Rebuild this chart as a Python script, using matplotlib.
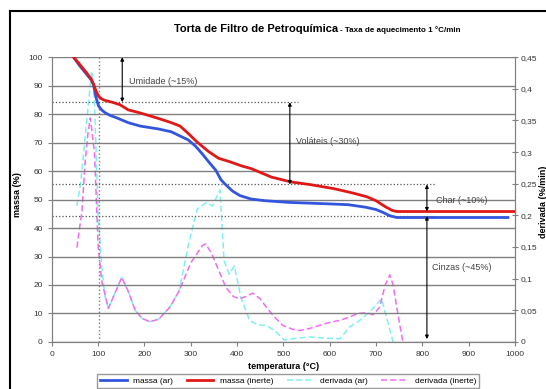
import matplotlib
matplotlib.use("Agg")
import matplotlib.pyplot as plt
from matplotlib.lines import Line2D
from matplotlib.ticker import FuncFormatter

plt.rcParams["font.family"] = ["Liberation Sans", "DejaVu Sans"]

# massa (ar)
t_ar = [47, 60, 75, 85, 90, 95, 101, 108, 115, 125, 140, 165, 191, 230, 258,
        277, 294, 310, 324, 340, 354, 365, 373, 390, 406, 430, 460, 512, 580,
        640, 678, 700, 715, 730, 745, 800, 985]
m_ar = [100, 97, 94, 92, 90.3, 86, 82.8, 81.4, 80.5, 79.6, 78.7, 77, 75.8,
        74.8, 73.8, 72.3, 71, 68.8, 66.2, 63, 60.3, 57, 55.6, 53, 51.4, 50.2,
        49.6, 49, 48.6, 48.2, 47.3, 46.5, 45.5, 44.3, 43.7, 43.7, 43.7]

# massa (inerte)
t_in = [47, 60, 75, 85, 90, 95, 101, 108, 115, 130, 147, 165, 191, 230, 258,
        277, 294, 315, 339, 360, 384, 410, 430, 474, 516, 560, 610, 650, 680,
        700, 720, 735, 745, 800, 1000]
m_in = [100, 97.5, 94.5, 92.3, 90.5, 88.3, 86.2, 85.3, 84.8, 84.2, 83.3, 81.5,
        80.4, 78.5, 77, 75.8, 73.3, 70, 66.8, 64.5, 63.3, 61.8, 60.9, 57.9,
        56.2, 55.2, 53.8, 52.3, 51, 49.6, 47.5, 46.2, 45.8, 45.8, 45.8]

# derivada (ar)
td_ar = [54, 62, 70, 78, 86, 92, 100, 108, 115, 122, 135, 151, 165, 180, 195,
         212, 231, 255, 275, 295, 314, 333, 347, 363, 372, 383, 394, 408, 427,
         445, 463, 481, 502, 530, 557, 590, 622, 644, 665, 690, 712, 737]
d_ar = [0.215, 0.25, 0.31, 0.37, 0.428, 0.38, 0.2, 0.117, 0.07, 0.053, 0.075,
        0.102, 0.08, 0.05, 0.037, 0.032, 0.036, 0.055, 0.081, 0.154, 0.21,
        0.22, 0.215, 0.24, 0.128, 0.107, 0.12, 0.071, 0.034, 0.027, 0.026,
        0.018, 0.003, 0.006, 0.008, 0.006, 0.005, 0.024, 0.034, 0.05, 0.068,
        0.0]

# derivada (inerte)
td_in = [54, 65, 72, 78, 83, 92, 100, 108, 122, 135, 151, 165, 180, 195, 212,
         231, 255, 275, 300, 325, 332, 345, 358, 376, 392, 405, 420, 434, 450,
         463, 480, 499, 520, 535, 555, 578, 600, 622, 645, 661, 680, 694, 708,
         720, 730, 737, 745, 758]
d_in = [0.149, 0.207, 0.286, 0.33, 0.354, 0.30, 0.15, 0.095, 0.053, 0.075,
        0.102, 0.08, 0.05, 0.037, 0.032, 0.036, 0.055, 0.081, 0.125, 0.152,
        0.155, 0.14, 0.117, 0.086, 0.072, 0.068, 0.072, 0.077, 0.068, 0.055,
        0.04, 0.026, 0.02, 0.018, 0.021, 0.026, 0.031, 0.034, 0.04, 0.045,
        0.046, 0.043, 0.055, 0.09, 0.106, 0.09, 0.054, 0.0]

# annotation levels (massa %)
umid_top, umid_bot = 100, 84.2
vol_bot = 55.3
char_bot = 44.2
cinz_bot = 1

fig = plt.figure(figsize=(5.46, 3.89), dpi=100)
ax = fig.add_axes([0.095, 0.121, 0.848, 0.732])
ax2 = ax.twinx()

ax.set_xlim(0, 1000)
ax.set_ylim(0, 100)
ax2.set_ylim(0, 0.45)
ax.set_xticks(range(0, 1001, 100))
ax.set_yticks(range(0, 101, 10))
ax2.set_yticks([i * 0.05 for i in range(10)])
ax2.yaxis.set_major_formatter(
    FuncFormatter(lambda v, p: ("%g" % round(v, 2)).replace(".", ",")))

ax.grid(axis="y", color="#808080", lw=1)
ax.set_axisbelow(True)
for a in (ax, ax2):
    a.spines["top"].set_visible(False)
    for s in ("left", "right", "bottom"):
        a.spines[s].set_color("#808080")
ax.tick_params(labelsize=6, color="#808080", length=3, labelcolor="#333333")
ax2.tick_params(labelsize=6, color="#808080", length=5, direction="inout",
                labelcolor="#333333", pad=1.5)

# dotted guides
ax.plot([101, 101], [0, 100], ls=":", color="#808080", lw=1)
ax.plot([0, 531], [umid_bot, umid_bot], ls=":", color="#555555", lw=0.9)
ax.plot([0, 828], [vol_bot, vol_bot], ls=":", color="#555555", lw=0.9)
ax.plot([0, 830], [char_bot, char_bot], ls=":", color="#555555", lw=0.9)

l3, = ax2.plot(td_ar, d_ar, color="#7ff0f0", ls=(0, (4, 2)), lw=1.1,
               label="derivada (ar)")
l4, = ax2.plot(td_in, d_in, color="#f06cf0", ls=(0, (4, 2)), lw=1.1,
               label="derivada (inerte)")
l1, = ax.plot(t_ar, m_ar, color="#3355dd", lw=2, label="massa (ar)")
l2, = ax.plot(t_in, m_in, color="#e01818", lw=2, label="massa (inerte)")
ax.set_zorder(ax2.get_zorder() + 1)
ax.patch.set_visible(False)

arr = dict(arrowstyle="<|-|>", color="black", lw=0.8, mutation_scale=5,
           shrinkA=0, shrinkB=0)
ax.annotate("", xy=(152, umid_top), xytext=(152, umid_bot), arrowprops=arr)
ax.annotate("", xy=(514, umid_bot), xytext=(514, vol_bot), arrowprops=arr)
ax.annotate("", xy=(810, vol_bot), xytext=(810, 45.8), arrowprops=arr)
ax.annotate("", xy=(810, char_bot), xytext=(810, cinz_bot), arrowprops=arr)

txt = dict(fontsize=6.5, color="#444444", va="center")
ax.text(166, 91.5, "Umidade (~15%)", **txt)
ax.text(527, 70.3, "Voláteis (~30%)", **txt)
ax.text(830, 49.8, "Char (~10%)", **txt)
ax.text(822, 26, "Cinzas (~45%)", **txt)

ax.set_xlabel("temperatura (°C)", fontsize=6.5, fontweight="bold", labelpad=3)
fig.text(18 / 546, 0.5, "massa (%)", rotation=90, fontsize=6.5,
         fontweight="bold", ha="center", va="center")
fig.text(543 / 546, 0.48, "derivada (%/min)", rotation=90, fontsize=6.5,
         fontweight="bold", ha="center", va="center")

fig.text(0.62, 0.925, "Torta de Filtro de Petroquímica", fontsize=8,
         fontweight="bold", ha="right", va="center")
fig.text(0.622, 0.922, "- Taxa de aquecimento 1 °C/min", fontsize=5.8,
         fontweight="bold", ha="left", va="center")

fig.legend(handles=[l1, l2, l3, l4], loc="center", ncol=4, fontsize=6,
           bbox_to_anchor=(288 / 546, 0.02), frameon=True, fancybox=False,
           edgecolor="#808080", handlelength=3.2, columnspacing=1.6,
           borderpad=0.4)

# outer chart border
y0 = 1 - 11 / 389
x0 = 10 / 546
fig.add_artist(Line2D([x0, x0], [0, y0], color="black", lw=1.5))
fig.add_artist(Line2D([x0, 1], [y0, y0], color="black", lw=1.5))

fig.savefig("out.png", dpi=100)
